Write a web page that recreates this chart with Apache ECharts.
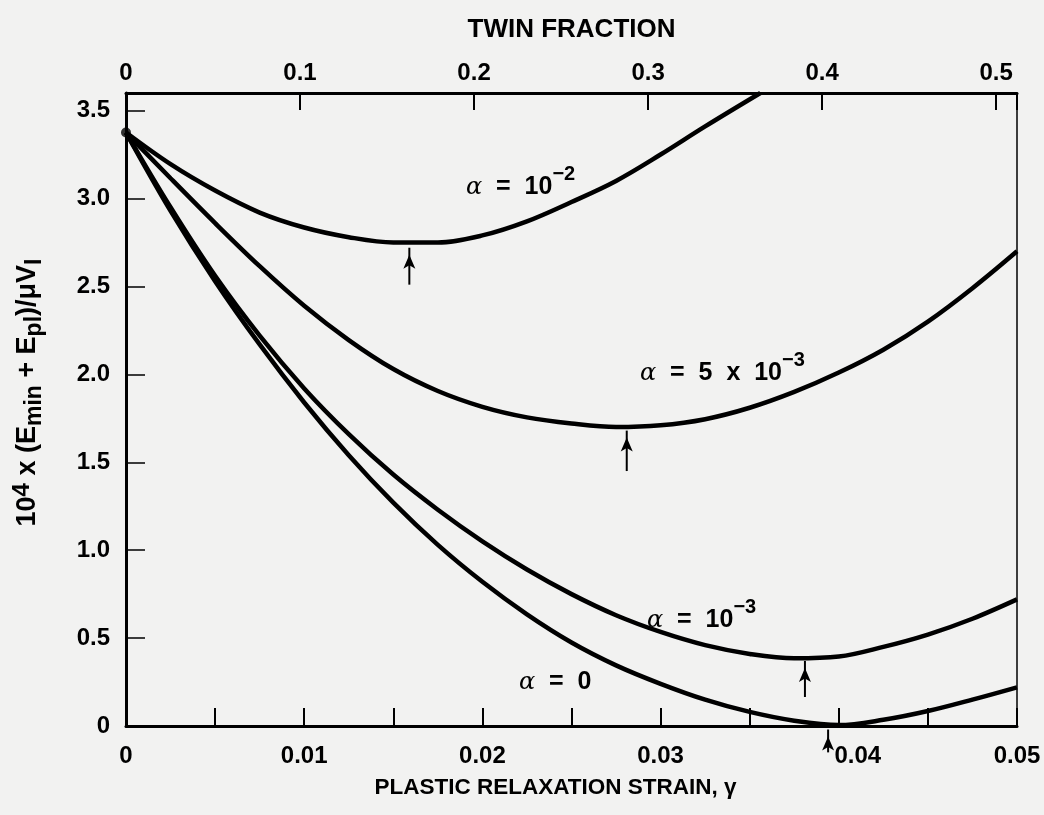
<!DOCTYPE html>
<html>
<head>
<meta charset="utf-8">
<script src="https://cdn.jsdelivr.net/npm/echarts@6/dist/echarts.min.js"></script>
<style>
  html, body { margin: 0; padding: 0; background: #f2f2f1; }
  #main { width: 1044px; height: 815px; }
</style>
</head>
<body>
<div id="main"></div>
<script>
// plastic relaxation strain (bottom axis)
var gamma = [0, 0.0025, 0.005, 0.0075, 0.01, 0.0125, 0.015, 0.0175, 0.02, 0.0225, 0.025,
  0.0275, 0.03, 0.0325, 0.035, 0.0375, 0.04, 0.0425, 0.045, 0.0475, 0.05]

// 10^4 x (Emin + Epl)/muVI for each alpha
var alpha0 = [3.375, 2.93, 2.53, 2.17, 1.84, 1.54, 1.27, 1.03, 0.82, 0.635, 0.475,
  0.345, 0.24, 0.15, 0.08, 0.03, 0.005, 0.035, 0.085, 0.15, 0.22]
var alpha1e3 = [3.375, 2.95, 2.56, 2.22, 1.92, 1.66, 1.43, 1.23, 1.05, 0.89, 0.75,
  0.63, 0.535, 0.46, 0.41, 0.385, 0.395, 0.45, 0.52, 0.61, 0.72]
var alpha5e3 = [3.375, 3.115, 2.86, 2.615, 2.39, 2.195, 2.03, 1.905, 1.815, 1.755, 1.72,
  1.70, 1.71, 1.745, 1.81, 1.90, 2.01, 2.14, 2.30, 2.49, 2.70]
// alpha = 10^-2 leaves the top of the frame
var gamma1e2 = [0, 0.0025, 0.005, 0.0075, 0.01, 0.0125, 0.015, 0.0175, 0.02, 0.0225, 0.025,
  0.0275, 0.03, 0.0325, 0.0356]
var alpha1e2 = [3.375, 3.195, 3.045, 2.92, 2.835, 2.78, 2.75, 2.75, 2.79, 2.87, 2.98,
  3.10, 3.25, 3.41, 3.6]

// arrows marking the minima: [gamma, from, to]
var arrow1e2 = [0.0159, 2.51, 2.72]
var arrow5e3 = [0.0281, 1.45, 1.68]
var arrow1e3 = [0.0381, 0.165, 0.37]
var arrow0 = [0.0394, -0.15, -0.02]

// tick labels
var strainLabels = ['0', '0.01', '0.02', '0.03', '0.04', '0.05']
var twinLabels = ['0', '0.1', '0.2', '0.3', '0.4', '0.5']
var energyLabels = ['0', '0.5', '1.0', '1.5', '2.0', '2.5', '3.0', '3.5']

var chartDom = document.getElementById('main')
var myChart = echarts.init(chartDom)
var option

function pairs(xs, ys) {
  return xs.map(function(x, i) { return [x, ys[i]] })
}

function curve(name, data) {
  return {
    name: name,
    type: 'line',
    smooth: 0.35,
    showSymbol: false,
    clip: false,
    silent: true,
    lineStyle: { color: '#000', width: 4.5 },
    data: data
  }
}

// small vertical arrow pointing up at a minimum
function arrowSeries(a) {
  return {
    type: 'line',
    clip: false,
    silent: true,
    showSymbol: true,
    lineStyle: { color: '#000', width: 2 },
    itemStyle: { color: '#000' },
    data: [
      { value: [a[0], a[1]], symbol: 'none' },
      { value: [a[0], a[2]], symbol: 'arrow', symbolSize: [9, 14], symbolOffset: [0, '50%'] }
    ]
  }
}

var font = 'Liberation Sans'
var tickFont = { fontFamily: font, fontWeight: 'bold', fontSize: 24, color: '#000' }

// alpha labels: { a = α, t = text, s = superscript }
var labelRich = {
  a: { fontFamily: 'DejaVu Serif', fontStyle: 'italic', fontSize: 24, color: '#000', lineHeight: 36, verticalAlign: 'bottom' },
  t: { fontFamily: font, fontWeight: 'bold', fontSize: 25, color: '#000', lineHeight: 36, verticalAlign: 'bottom' },
  s: { fontFamily: font, fontWeight: 'bold', fontSize: 20, color: '#000', lineHeight: 36, verticalAlign: 'top' }
}

function alphaText(x, y, text) {
  return {
    type: 'text',
    x: x,
    y: y,
    silent: true,
    style: { text: text, rich: labelRich, verticalAlign: 'middle', align: 'left' }
  }
}

option = {
  backgroundColor: '#f2f2f1',
  animation: false,
  grid: { left: 126, right: 27, top: 93, bottom: 89, containLabel: false },
  xAxis: [
    {
      type: 'value',
      position: 'bottom',
      min: 0,
      max: 0.05,
      interval: 0.005,
      name: 'PLASTIC RELAXATION STRAIN, γ',
      nameLocation: 'middle',
      nameGap: 50,
      nameTextStyle: { fontFamily: font, fontWeight: 'bold', fontSize: 22.5, color: '#000', padding: [0, 32, 0, 0] },
      axisLine: { onZero: false, lineStyle: { color: '#000', width: 3 } },
      axisTick: { inside: true, length: 18, lineStyle: { color: '#000', width: 2 } },
      axisLabel: Object.assign({
        margin: 18,
        formatter: function(v) {
          var k = Math.round(v * 1000)
          if (k % 10 !== 0) return ''
          // 0.04 sits right of its tick to leave room for the arrow
          return k === 40 ? '{r|' + strainLabels[k / 10] + '}' : strainLabels[k / 10]
        },
        rich: {
          r: { fontFamily: font, fontWeight: 'bold', fontSize: 24, color: '#000', padding: [0, 0, 0, 38] }
        }
      }, tickFont),
      splitLine: { show: false }
    },
    {
      type: 'value',
      position: 'top',
      min: 0,
      max: 0.512,
      interval: 0.1,
      name: 'TWIN FRACTION',
      nameLocation: 'middle',
      nameGap: 50,
      nameTextStyle: { fontFamily: font, fontWeight: 'bold', fontSize: 26, color: '#000' },
      axisLine: { onZero: false, lineStyle: { color: '#000', width: 3 } },
      axisTick: { inside: true, length: 17, lineStyle: { color: '#000', width: 2 } },
      axisLabel: Object.assign({
        margin: 8,
        formatter: function(v) {
          var k = Math.round(v * 10)
          return Math.abs(v * 10 - k) < 1e-6 ? twinLabels[k] : ''
        }
      }, tickFont),
      splitLine: { show: false }
    }
  ],
  yAxis: [
    {
      type: 'value',
      position: 'left',
      min: 0,
      max: 3.6,
      interval: 0.5,
      name: '{n|10}{p|4}{n| x (E}{b|min}{n| + E}{b|pl}{n|)/μV}{b|I}',
      nameLocation: 'middle',
      nameGap: 80,
      nameTextStyle: {
        padding: [0, 0, 0, 34],
        rich: {
          n: { fontFamily: font, fontWeight: 'bold', fontSize: 27, color: '#000', lineHeight: 36, verticalAlign: 'middle' },
          p: { fontFamily: font, fontWeight: 'bold', fontSize: 24, color: '#000', lineHeight: 36, verticalAlign: 'top' },
          b: { fontFamily: font, fontWeight: 'bold', fontSize: 23, color: '#000', lineHeight: 36, verticalAlign: 'bottom' }
        }
      },
      axisLine: { onZero: false, lineStyle: { color: '#000', width: 3 } },
      axisTick: { inside: true, length: 19, lineStyle: { color: '#000', width: 1.5 } },
      axisLabel: Object.assign({
        margin: 16,
        formatter: function(v) {
          var k = Math.round(v * 2)
          return Math.abs(v * 2 - k) < 1e-6 ? energyLabels[k] : ''
        }
      }, tickFont),
      splitLine: { show: false }
    },
    {
      type: 'value',
      position: 'right',
      min: 0,
      max: 3.6,
      axisLine: { show: true, onZero: false, lineStyle: { color: '#000', width: 1.5 } },
      axisTick: { show: false },
      axisLabel: { show: false },
      splitLine: { show: false }
    }
  ],
  graphic: [
    alphaText(466, 182, '{a|α}{t|  =  10}{s|−2}'),
    alphaText(640, 368, '{a|α}{t|  =  5  x  10}{s|−3}'),
    alphaText(647, 615, '{a|α}{t|  =  10}{s|−3}'),
    alphaText(519, 677, '{a|α}{t|  =  0}')
  ],
  series: [
    curve('α = 0', pairs(gamma, alpha0)),
    curve('α = 10^-3', pairs(gamma, alpha1e3)),
    curve('α = 5 x 10^-3', pairs(gamma, alpha5e3)),
    curve('α = 10^-2', pairs(gamma1e2, alpha1e2)),
    arrowSeries(arrow0),
    arrowSeries(arrow1e3),
    arrowSeries(arrow5e3),
    arrowSeries(arrow1e2),
    {
      name: 'start',
      type: 'scatter',
      symbol: 'circle',
      symbolSize: 10,
      itemStyle: { color: '#000' },
      silent: true,
      data: [[gamma[0], alpha0[0]]]
    }
  ]
}

option && myChart.setOption(option)
</script>
</body>
</html>
